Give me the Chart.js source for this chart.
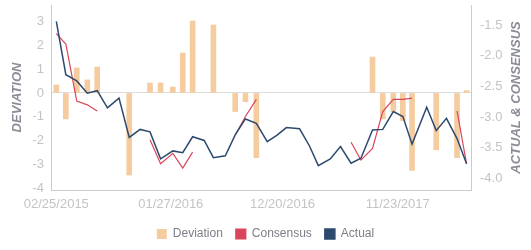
<!DOCTYPE html>
<html>
<head>
<meta charset="utf-8">
<script src="https://cdn.jsdelivr.net/npm/chart.js@4/dist/chart.umd.min.js"></script>
<style>
  body { margin: 0; background: #fff; }
  #wrap { width: 531px; height: 250px; position: relative; }
</style>
</head>
<body>
<div id="wrap"><canvas id="chart"></canvas></div>
<script>
"use strict"

// release dates, one per point
const dates = [
    '2015-02-25', '2015-03-25', '2015-04-26', '2015-05-27', '2015-06-25',
    '2015-07-25', '2015-08-28', '2015-09-27', '2015-10-29', '2015-11-27',
    '2015-12-28', '2016-02-02', '2016-03-02', '2016-03-31', '2016-05-04',
    '2016-05-31', '2016-07-05', '2016-08-03', '2016-09-02', '2016-10-04',
    '2016-11-05', '2016-12-05', '2016-12-31', '2017-02-08', '2017-03-09',
    '2017-04-04', '2017-05-09', '2017-06-08', '2017-07-09', '2017-08-07',
    '2017-09-10', '2017-10-10', '2017-11-10', '2017-12-08', '2018-01-04',
    '2018-02-16', '2018-03-16', '2018-04-15', '2018-05-16', '2018-06-13'
];

const deviation = [
    0.34, -1.09, 1.05, 0.55, 1.09,
    null, null, -3.45, null, 0.42,
    0.42, 0.25, 1.68, 3.03, null,
    2.86, null, -0.78, -0.37, -2.72,
    null, null, null, null, null,
    null, null, null, null, null,
    1.51, -1.09, -0.78, -1.16, -3.26,
    null, -2.39, null, -2.72, 0.1
];

const consensus = [
    -1.64, -1.81, -2.74, -2.80, -2.90,
    null, null, null, null, -3.37,
    -3.76, -3.59, -3.83, -3.57, null,
    null, null, -3.29, -2.99, -2.71,
    null, null, null, null, null,
    null, null, null, -3.41, -3.70,
    -3.51, -2.91, -2.71, -2.71, -2.69,
    null, null, null, -2.90, -3.76
];

const actual = [
    -1.44, -2.31, -2.41, -2.61, -2.57,
    -2.85, -2.69, -3.33, -3.20, -3.24,
    -3.68, -3.55, -3.58, -3.32, -3.38,
    -3.66, -3.63, -3.29, -3.03, -3.10,
    -3.40, -3.29, -3.17, -3.19, -3.47,
    -3.79, -3.68, -3.48, -3.75, -3.67,
    -3.21, -3.20, -2.91, -2.99, -3.44,
    -2.84, -3.22, -3.02, -3.35, -3.76
];

const tickDates = ['2015-02-25', '2016-01-27', '2016-12-20', '2017-11-23'];

const fontFamily = '"Liberation Sans", Arial, sans-serif';
const tickColor = '#c4c4c4';
const axisColor = '#cccccc';
const titleColor = '#8a8d96';

const baseDay = Date.UTC(2015, 1, 25);

/**
 * Days since the first release, used as the x value
 */
function dayOf(s) {
    const p = s.split('-').map(Number);
    return (Date.UTC(p[0], p[1] - 1, p[2]) - baseDay) / 864e5;
}

function formatDay(v) {
    const d = new Date(baseDay + v * 864e5);
    const pad = n => String(n).padStart(2, '0');
    return `${pad(d.getUTCMonth() + 1)}/${pad(d.getUTCDate())}/${d.getUTCFullYear()}`;
}

function points(values) {
    return dates.map((d, i) => ({ x: dayOf(d), y: values[i] }));
}

// rotated axis titles, both reading bottom to top
const axisTitles = {
    id: 'axisTitles',
    afterDraw(chart) {
        const { ctx, chartArea } = chart;
        const cy = (chartArea.top + chartArea.bottom) / 2;
        ctx.save();
        ctx.font = 'italic bold 13px ' + fontFamily;
        ctx.fillStyle = titleColor;
        ctx.textAlign = 'center';
        ctx.textBaseline = 'middle';
        [[17.5, 'DEVIATION'], [516, 'ACTUAL & CONSENSUS']].forEach(([x, text]) => {
            ctx.save();
            ctx.translate(x, cy);
            ctx.rotate(-Math.PI / 2);
            ctx.fillText(text, 0, 0);
            ctx.restore();
        });
        ctx.restore();
    }
};

new Chart(document.getElementById('chart'), {
    type: 'bar',
    data: {
        datasets: [
            {
                type: 'bar',
                label: 'Deviation',
                data: points(deviation),
                backgroundColor: '#f5cc9f',
                barThickness: 5,
                yAxisID: 'yDev',
                order: 3
            },
            {
                type: 'line',
                label: 'Consensus',
                data: points(consensus),
                borderColor: '#d9465c',
                backgroundColor: '#d9465c',
                borderWidth: 1.2,
                pointRadius: 0,
                tension: 0,
                spanGaps: false,
                yAxisID: 'yAct',
                order: 2
            },
            {
                type: 'line',
                label: 'Actual',
                data: points(actual),
                borderColor: '#2d4a6e',
                backgroundColor: '#2d4a6e',
                borderWidth: 1.5,
                pointRadius: 0,
                tension: 0,
                spanGaps: false,
                yAxisID: 'yAct',
                order: 1
            }
        ]
    },
    options: {
        responsive: true,
        maintainAspectRatio: false,
        animation: false,
        layout: { padding: { top: 5, bottom: 0 } },
        plugins: {
            tooltip: { enabled: false },
            legend: {
                position: 'bottom',
                labels: {
                    boxWidth: 10,
                    boxHeight: 10,
                    padding: 13,
                    color: '#7d7f88',
                    font: { family: fontFamily, size: 12 },
                    sort: (a, b) => a.datasetIndex - b.datasetIndex
                }
            }
        },
        scales: {
            x: {
                type: 'linear',
                min: -15.6,
                max: 1217,
                offset: false,
                grid: { display: false, drawTicks: false },
                border: { display: true, color: axisColor },
                ticks: {
                    autoSkip: false,
                    maxRotation: 0,
                    padding: 7,
                    color: tickColor,
                    font: { family: fontFamily, size: 13 },
                    callback: v => formatDay(v)
                },
                afterBuildTicks: s => { s.ticks = tickDates.map(d => ({ value: dayOf(d) })); },
                afterFit: s => { s.height = 25; }
            },
            yDev: {
                position: 'left',
                min: -4.08,
                max: 3.7,
                grid: {
                    drawTicks: false,
                    color: c => (c.tick && c.tick.value === 0) ? '#dcdcdc' : 'rgba(0,0,0,0)'
                },
                border: { display: true, color: axisColor },
                ticks: {
                    stepSize: 1,
                    includeBounds: false,
                    padding: 7,
                    color: tickColor,
                    font: { family: fontFamily, size: 13 }
                },
                afterFit: s => { s.width = 51; s.paddingTop = 0; s.paddingBottom = 0; }
            },
            yAct: {
                position: 'right',
                min: -4.187,
                max: -1.174,
                grid: { display: false, drawTicks: false },
                border: { display: true, color: axisColor },
                ticks: {
                    stepSize: 0.5,
                    includeBounds: false,
                    padding: 9,
                    color: tickColor,
                    font: { family: fontFamily, size: 13 },
                    callback: v => v.toFixed(1)
                },
                afterFit: s => { s.width = 60; s.paddingTop = 0; s.paddingBottom = 0; }
            }
        }
    },
    plugins: [axisTitles]
});
</script>
</body>
</html>
